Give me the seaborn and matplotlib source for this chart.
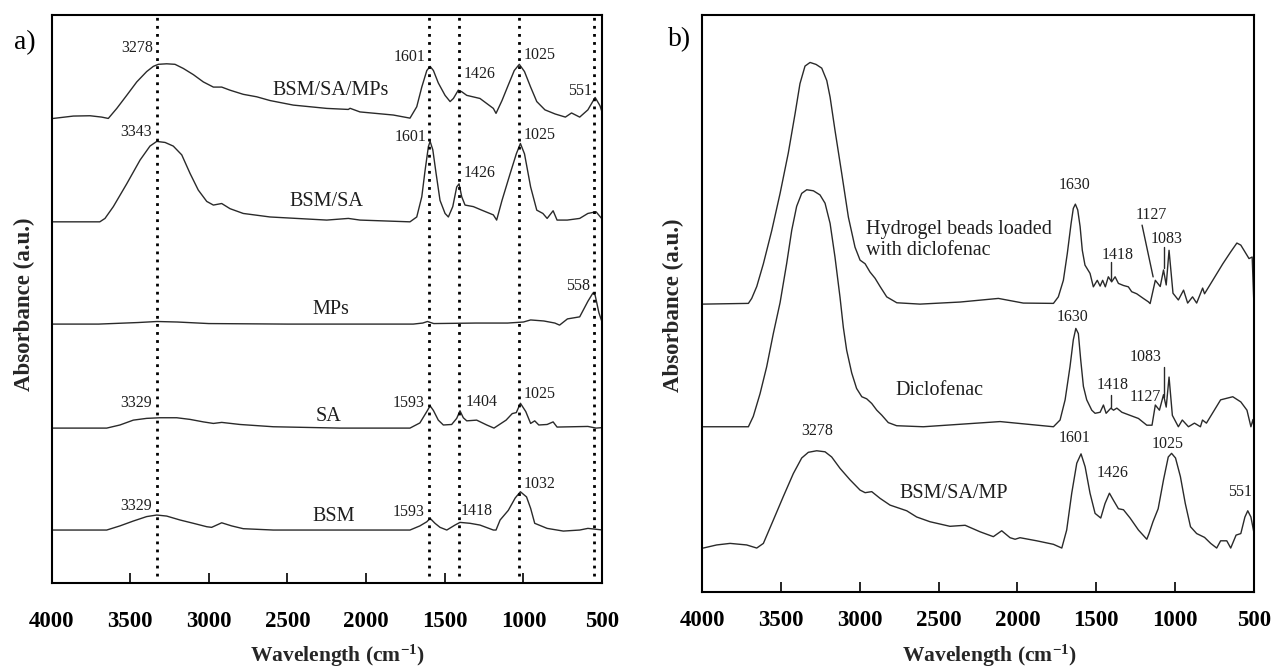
import numpy as np
import pandas as pd
import matplotlib
matplotlib.use("Agg")
import matplotlib.pyplot as plt
import seaborn as sns

# ---------------- data ----------------
xticks = [4000, 3500, 3000, 2500, 2000, 1500, 1000, 500]

# Panel a) spectra (wavenumber, absorbance above own baseline, a.u.)
bsm_sa_mps_wn = [3989, 3861, 3755, 3681, 3639, 3585, 3522, 3458, 3395, 3353, 3321, 3268, 3215, 3162, 3098,
                 3035, 2971, 2918, 2865, 2781, 2695, 2611, 2463, 2250, 2113, 2102, 2039, 1827, 1721, 1678,
                 1646, 1614, 1593, 1572, 1541, 1498, 1466, 1445, 1414, 1392, 1360, 1276, 1191, 1174, 1136,
                 1096, 1058, 1026, 993, 954, 915, 863, 798, 733, 694, 642, 590, 544, 513, 494]
bsm_sa_mps_ab = [-0.013, 0.01, 0.013, 0.0, -0.013, 0.084, 0.21, 0.34, 0.44, 0.49, 0.51, 0.515, 0.51, 0.47, 0.41,
                 0.34, 0.29, 0.29, 0.26, 0.22, 0.196, 0.16, 0.116, 0.084, 0.074, 0.085, 0.05, 0.02, -0.01, 0.10,
                 0.29, 0.45, 0.49, 0.45, 0.33, 0.21, 0.15, 0.18, 0.26, 0.245, 0.21, 0.18, 0.084, 0.036, 0.16,
                 0.31, 0.45, 0.51, 0.44, 0.29, 0.15, 0.07, 0.03, 0.0, 0.04, 0.0, 0.07, 0.19, 0.11, 0.02]

bsm_sa_wn = [3989, 3693, 3660, 3607, 3522, 3437, 3374, 3331, 3278, 3226, 3172, 3119, 3067, 3013, 2971, 2918,
             2865, 2781, 2611, 2250, 2113, 2039, 1721, 1678, 1646, 1625, 1604, 1593, 1576, 1555, 1530, 1498,
             1477, 1449, 1424, 1409, 1392, 1371, 1318, 1265, 1191, 1170, 1136, 1084, 1045, 1019, 993, 954,
             915, 876, 849, 811, 786, 721, 642, 590, 538, 494]
bsm_sa_ab = [-0.007, -0.007, 0.026, 0.14, 0.36, 0.59, 0.725, 0.77, 0.76, 0.725, 0.64, 0.46, 0.30, 0.19, 0.155,
             0.17, 0.12, 0.074, 0.04, 0.01, 0.026, 0.01, -0.007, 0.04, 0.235, 0.49, 0.72, 0.77, 0.69, 0.46,
             0.20, 0.074, 0.04, 0.14, 0.33, 0.36, 0.235, 0.155, 0.14, 0.106, 0.06, 0.01, 0.20, 0.46, 0.65,
             0.75, 0.65, 0.33, 0.106, 0.074, 0.026, 0.10, 0.01, 0.01, 0.026, 0.074, 0.09, 0.01]

mps_wn = [3990, 3700, 3450, 3329, 3200, 3000, 2500, 2000, 1700, 1640, 1610, 1570, 1300, 1100, 1000, 954,
          870, 800, 770, 720, 642, 590, 558, 544, 520, 500]
mps_ab = [0.0, 0.0, 0.015, 0.025, 0.02, 0.005, 0.0, 0.0, 0.0, 0.01, 0.025, 0.005, 0.01, 0.01, 0.02, 0.04,
          0.03, 0.01, -0.01, 0.05, 0.07, 0.22, 0.30, 0.28, 0.11, 0.02]

sa_wn = [3989, 3649, 3565, 3480, 3395, 3310, 3204, 3119, 3035, 2971, 2918, 2802, 2590, 2166, 1721, 1658,
         1614, 1593, 1572, 1541, 1509, 1456, 1424, 1403, 1382, 1360, 1297, 1233, 1187, 1110, 1071, 1045,
         1019, 985, 954, 928, 902, 849, 811, 786, 590, 538, 494]
sa_ab = [0.0, 0.0, 0.03, 0.077, 0.094, 0.10, 0.10, 0.084, 0.06, 0.045, 0.055, 0.035, 0.013, 0.0, 0.0, 0.05,
         0.16, 0.215, 0.17, 0.077, 0.03, 0.035, 0.094, 0.167, 0.10, 0.07, 0.077, 0.03, 0.0, 0.077, 0.14, 0.15,
         0.24, 0.16, 0.045, 0.07, 0.03, 0.035, 0.06, 0.01, 0.016, 0.0, 0.005]

bsm_wn = [3989, 3649, 3565, 3480, 3395, 3331, 3268, 3183, 3098, 3013, 2982, 2918, 2855, 2781, 2590, 1721,
          1658, 1614, 1593, 1562, 1530, 1487, 1435, 1403, 1339, 1276, 1191, 1174, 1148, 1096, 1052, 1019,
          980, 954, 928, 849, 746, 642, 590, 494]
bsm_ab = [0.0, 0.0, 0.04, 0.087, 0.13, 0.145, 0.135, 0.097, 0.065, 0.032, 0.026, 0.07, 0.04, 0.013, 0.0, 0.0,
          0.04, 0.08, 0.113, 0.065, 0.026, 0.0, 0.048, 0.074, 0.065, 0.048, 0.0, 0.0, 0.097, 0.19, 0.31, 0.37,
          0.32, 0.21, 0.065, 0.016, -0.01, 0.0, 0.016, 0.0]

a_names = ["BSM", "SA", "MPs", "BSM/SA", "BSM/SA/MPs"]
a_offsets = [0.0, 0.985, 1.99, 2.985, 3.99]
a_markers = [3329, 1597, 1410, 1028, 551]

# Panel b) spectra
hydro_wn = [3992, 3706, 3685, 3653, 3611, 3558, 3505, 3453, 3410, 3379, 3347, 3315, 3277, 3241, 3209, 3188,
            3157, 3114, 3072, 3030, 2998, 2966, 2935, 2903, 2871, 2829, 2765, 2618, 2364, 2121, 1963, 1772,
            1741, 1709, 1684, 1660, 1646, 1633, 1618, 1603, 1589, 1572, 1540, 1519, 1494, 1476, 1460, 1443,
            1424, 1403, 1381, 1360, 1328, 1297, 1276, 1244, 1202, 1170, 1159, 1126, 1095, 1074, 1057, 1039,
            1014, 980, 947, 921, 890, 864, 826, 814, 762, 698, 648, 609, 584, 558, 532, 512, 502]
hydro_ab = [0.0, 0.007, 0.055, 0.17, 0.39, 0.71, 1.07, 1.46, 1.84, 2.13, 2.30, 2.335, 2.316, 2.28, 2.16, 2.0,
            1.68, 1.26, 0.84, 0.55, 0.425, 0.39, 0.31, 0.25, 0.17, 0.07, 0.013, 0.0, 0.02, 0.055, 0.01, 0.007,
            0.07, 0.23, 0.49, 0.78, 0.925, 0.966, 0.91, 0.75, 0.52, 0.377, 0.297, 0.167, 0.23, 0.174, 0.23, 0.167,
            0.264, 0.215, 0.264, 0.2, 0.18, 0.167, 0.12, 0.10, 0.055, 0.022, 0.005, 0.23, 0.17, 0.33, 0.185, 0.52,
            0.105, 0.04, 0.135, 0.01, 0.07, 0.01, 0.155, 0.10, 0.23, 0.39, 0.505, 0.59, 0.57, 0.505, 0.44, 0.455,
            0.04]

diclo_wn = [3992, 3706, 3675, 3632, 3590, 3548, 3505, 3463, 3431, 3400, 3368, 3336, 3294, 3252, 3220, 3188,
            3157, 3125, 3104, 3083, 3051, 3020, 2987, 2956, 2924, 2892, 2861, 2819, 2766, 2597, 2110, 1772,
            1730, 1698, 1667, 1646, 1630, 1614, 1599, 1582, 1561, 1529, 1508, 1476, 1455, 1438, 1408, 1391,
            1370, 1338, 1286, 1233, 1180, 1147, 1126, 1100, 1074, 1057, 1039, 1018, 980, 955, 916, 878, 840,
            827, 802, 712, 635, 584, 545, 520, 507, 500]
diclo_ab = [0.0, 0.0, 0.10, 0.32, 0.58, 0.90, 1.20, 1.58, 1.90, 2.13, 2.255, 2.29, 2.28, 2.24, 2.16, 1.965,
            1.64, 1.25, 0.96, 0.74, 0.52, 0.37, 0.29, 0.27, 0.225, 0.16, 0.113, 0.04, 0.01, 0.0, 0.05, 0.0,
            0.065, 0.26, 0.58, 0.84, 0.95, 0.90, 0.645, 0.39, 0.26, 0.16, 0.13, 0.14, 0.21, 0.13, 0.18, 0.16,
            0.18, 0.14, 0.11, 0.08, 0.015, 0.015, 0.21, 0.16, 0.31, 0.19, 0.48, 0.11, 0.0, 0.065, 0.0, 0.035, 0.0,
            0.065, 0.035, 0.26, 0.29, 0.24, 0.16, 0.0, 0.07, -0.01]

bsmsamp_wn = [3992, 3907, 3822, 3717, 3653, 3611, 3548, 3484, 3421, 3368, 3326, 3273, 3220, 3178, 3125, 3062,
              2998, 2966, 2924, 2871, 2808, 2702, 2639, 2554, 2428, 2332, 2237, 2153, 2100, 2047, 2015, 1984,
              1878, 1772, 1719, 1688, 1656, 1624, 1597, 1571, 1540, 1508, 1472, 1445, 1417, 1391, 1360, 1328,
              1286, 1233, 1180, 1166, 1141, 1108, 1074, 1044, 1023, 998, 967, 936, 903, 864, 814, 775, 737,
              712, 673, 648, 614, 584, 558, 540, 520, 494]
bsmsamp_ab = [0.0, 0.03, 0.045, 0.03, 0.0, 0.045, 0.27, 0.50, 0.72, 0.87, 0.925, 0.94, 0.93, 0.88, 0.77, 0.66,
              0.56, 0.535, 0.545, 0.48, 0.415, 0.36, 0.30, 0.254, 0.21, 0.22, 0.157, 0.11, 0.167, 0.10, 0.085, 0.10,
              0.07, 0.036, 0.0, 0.174, 0.53, 0.82, 0.91, 0.785, 0.53, 0.335, 0.29, 0.43, 0.53, 0.46, 0.38, 0.37,
              0.29, 0.174, 0.085, 0.14, 0.254, 0.38, 0.66, 0.88, 0.915, 0.87, 0.69, 0.43, 0.206, 0.14, 0.103,
              0.045, 0.0, 0.07, 0.07, 0.0, 0.125, 0.14, 0.30, 0.36, 0.30, 0.095]

b_offsets = [0.0, 1.172, 2.357]

# ---------------- style ----------------
sns.set_theme(style="white", rc={"axes.edgecolor": "black"})
plt.rcParams['font.family'] = ['Liberation Serif', 'DejaVu Serif']
plt.rcParams['mathtext.fontset'] = 'custom'
plt.rcParams['mathtext.rm'] = 'Liberation Serif'
plt.rcParams['mathtext.bf'] = 'Liberation Serif:bold'
plt.rcParams['mathtext.it'] = 'Liberation Serif:italic'

LINE = "#2a2a2a"
TXT = "#1e1e1e"
PK = 11.5
NM = 14.5

fig = plt.figure(figsize=(12.72, 6.72), dpi=100)
axa = fig.add_axes([0.0405, 0.1324, 0.4328, 0.8452])
axb = fig.add_axes([0.5519, 0.1190, 0.4340, 0.8586])


def spectrum(ax, wn, ab, off):
    sns.lineplot(x=wn, y=np.asarray(ab) + off, ax=ax, color=LINE, linewidth=1.0,
                 sort=False, estimator=None)


# ---- panel a ----
a_data = [(bsm_wn, bsm_ab), (sa_wn, sa_ab), (mps_wn, mps_ab), (bsm_sa_wn, bsm_sa_ab), (bsm_sa_mps_wn, bsm_sa_mps_ab)]
for (wn, ab), off in zip(a_data, a_offsets):
    spectrum(axa, wn, ab, off)
for m in a_markers:
    axa.axvline(m, ymin=0.012, ymax=1.0, color="black", linestyle=(0, (1, 1.9)), linewidth=2.0,
                dash_capstyle="butt", zorder=3)

axa.set_xlim(4000, 500)
axa.set_ylim(-0.512, 4.976)

name_pos_a = [(2204, 0.135), (2238, 1.10), (2223, 2.135), (2255, 3.17), (2223, 4.25)]
for n, (x, y) in zip(a_names, name_pos_a):
    axa.text(x, y, n, fontsize=NM, ha="center", va="center", color=TXT)

peaks_a = [("3278", 3453, 4.654), ("1601", 1721, 4.573), ("1426", 1276, 4.41), ("1025", 894, 4.59),
           ("551", 640, 4.245), ("3343", 3463, 3.848), ("1601", 1715, 3.80), ("1426", 1276, 3.446),
           ("1025", 894, 3.816), ("558", 653, 2.357), ("3329", 3463, 1.224), ("1593", 1733, 1.224),
           ("1404", 1265, 1.24), ("1025", 894, 1.311), ("3329", 3463, 0.232), ("1593", 1733, 0.177),
           ("1418", 1295, 0.186), ("1032", 894, 0.444)]
for t, x, y in peaks_a:
    axa.text(x, y, t, fontsize=PK, ha="center", va="center", color=TXT)

# ---- panel b ----
b_data = [(bsmsamp_wn, bsmsamp_ab), (diclo_wn, diclo_ab), (hydro_wn, hydro_ab)]
for (wn, ab), off in zip(b_data, b_offsets):
    spectrum(axb, wn, ab, off)
axb.set_xlim(4000, 500)
axb.set_ylim(-0.425, 5.15)

axb.text(2960, 2.976, "Hydrogel beads loaded\nwith diclofenac", fontsize=NM, ha="left", va="center",
         color=TXT, linespacing=1.2)
axb.text(2497, 1.527, "Diclofenac", fontsize=NM, ha="center", va="center", color=TXT)
axb.text(2404, 0.528, "BSM/SA/MP", fontsize=NM, ha="center", va="center", color=TXT)

peaks_b = [("1630", 1637, 3.507), ("1418", 1368, 2.83), ("1127", 1153, 3.217), ("1083", 1054, 2.986),
           ("1630", 1649, 2.235), ("1418", 1396, 1.575), ("1127", 1190, 1.462), ("1083", 1190, 1.848),
           ("3278", 3271, 1.13), ("1601", 1637, 1.06), ("1426", 1394, 0.728), ("1025", 1049, 1.01),
           ("551", 589, 0.544)]
for t, x, y in peaks_b:
    axb.text(x, y, t, fontsize=PK, ha="center", va="center", color=TXT)

# leader lines for crowded peak labels
leaders = [((1407, 1407), (2.76, 2.59)), ((1210, 1140), (3.12, 2.62)), ((1074, 1074), (2.91, 2.71)),
           ((1407, 1407), (1.48, 1.36)), ((1070, 1070), (1.75, 1.46))]
for xs, ys in leaders:
    axb.plot(xs, ys, color=LINE, linewidth=1.0)

# ---- common axis styling ----
for ax, pad, xly in [(axa, 20, -0.128), (axb, 13, -0.111)]:
    ax.set_xticks(xticks)
    ax.set_xticklabels([str(t) for t in xticks], fontweight="bold", fontsize=16.5)
    ax.set_yticks([])
    ax.tick_params(axis="x", direction="in", length=7, width=1.2, bottom=True, top=False,
                   pad=pad, colors="black")
    for s in ax.spines.values():
        s.set_linewidth(1.5)
        s.set_color("black")
    ax.set_xlabel(r"Wavelength (cm$^{\mathbf{-1}}$)", fontweight="bold", fontsize=15.5, va="center")
    ax.xaxis.set_label_coords(0.52, xly)
    ax.set_ylabel("Absorbance (a.u.)", fontweight="bold", fontsize=16.5, va="center")

axa.yaxis.set_label_coords(-0.05, 0.49)
axb.yaxis.set_label_coords(-0.052, 0.497)

fig.text(25 / 1272, 1 - 43 / 672, "a)", fontsize=20, ha="center", va="center", color="black")
fig.text(680 / 1272, 1 - 40 / 672, "b)", fontsize=20, ha="center", va="center", color="black")

fig.savefig("out.png", dpi=100, facecolor="white")
